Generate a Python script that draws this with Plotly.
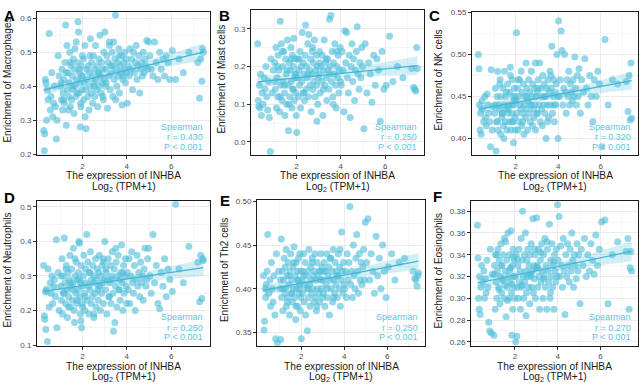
import numpy as np
import plotly.graph_objects as go

# ---------------- data (estimated) ----------------
# INHBA expression, Log2(TPM+1) — shared by all six panels (same samples)
inhba_log2 = [
    0.25, 0.28, 0.30, 0.33, 0.35, 0.38, 0.42, 0.45, 0.50, 0.55, 0.58, 0.62, 0.66, 0.70, 0.74, 0.78, 0.82, 0.85, 0.90, 0.95,
    1.02, 1.05, 1.08, 1.10, 1.13, 1.16, 1.18, 1.21, 1.24, 1.27, 1.30, 1.32, 1.35, 1.38, 1.40, 1.43, 1.46, 1.48, 1.51, 1.54,
    1.56, 1.59, 1.62, 1.64, 1.67, 1.70, 1.72, 1.75, 1.77, 1.80, 1.82, 1.84, 1.86, 1.88, 1.90, 1.92, 1.94, 1.96, 1.98, 1.99,
    1.04, 1.15, 1.26, 1.36, 1.45, 1.57, 1.66, 1.76, 1.85, 1.93,
    2.01, 2.04, 2.06, 2.09, 2.11, 2.14, 2.16, 2.19, 2.21, 2.24, 2.26, 2.29, 2.31, 2.34, 2.36, 2.39, 2.41, 2.44, 2.46, 2.49,
    2.51, 2.54, 2.56, 2.59, 2.61, 2.64, 2.66, 2.69, 2.71, 2.74, 2.76, 2.79, 2.81, 2.84, 2.86, 2.89, 2.91, 2.94, 2.96, 2.99,
    2.12, 2.33, 2.52, 2.73, 2.92,
    3.01, 3.04, 3.07, 3.10, 3.13, 3.16, 3.19, 3.22, 3.25, 3.28, 3.31, 3.34, 3.37, 3.40, 3.43, 3.46, 3.49, 3.52, 3.55, 3.58,
    3.61, 3.64, 3.67, 3.70, 3.73, 3.76, 3.79, 3.82, 3.85, 3.88, 3.91, 3.94, 3.97, 3.99,
    3.05, 3.21, 3.35, 3.50, 3.66, 3.81,
    4.02, 4.06, 4.10, 4.14, 4.18, 4.22, 4.26, 4.30, 4.34, 4.38, 4.42, 4.46, 4.50, 4.54, 4.58, 4.62, 4.66, 4.70, 4.74, 4.78,
    4.82, 4.86, 4.90, 4.94, 4.98,
    5.04, 5.10, 5.18, 5.25, 5.33, 5.40, 5.48, 5.55, 5.63, 5.70, 5.78, 5.86, 5.94,
    6.05, 6.20, 6.35, 6.55, 6.80,
    7.20, 7.28, 7.33, 7.38, 7.42, 7.45,
]

macrophages = [
    0.27, 0.21, 0.26, 0.42, 0.41, 0.30, 0.39, 0.36, 0.555, 0.33, 0.37, 0.44, 0.31, 0.35, 0.40, 0.34, 0.245, 0.30, 0.49, 0.43,
    0.40, 0.36, 0.45, 0.33, 0.38, 0.42, 0.35, 0.47, 0.58, 0.285, 0.52, 0.39, 0.44, 0.37, 0.41, 0.50, 0.34, 0.46, 0.36, 0.43,
    0.39, 0.48, 0.32, 0.45, 0.40, 0.37, 0.53, 0.42, 0.47, 0.59, 0.56, 0.38, 0.44, 0.41, 0.28, 0.35, 0.46, 0.43, 0.39, 0.49,
    0.41, 0.36, 0.44, 0.33, 0.47, 0.40, 0.51, 0.38, 0.45, 0.34,
    0.43, 0.48, 0.36, 0.41, 0.52, 0.39, 0.275, 0.45, 0.42, 0.37, 0.46, 0.33, 0.44, 0.40, 0.54, 0.38, 0.47, 0.43, 0.35, 0.49,
    0.41, 0.45, 0.37, 0.52, 0.42, 0.39, 0.46, 0.34, 0.44, 0.48, 0.40, 0.55, 0.43, 0.38, 0.47, 0.41, 0.45, 0.36, 0.50, 0.42,
    0.31, 0.49, 0.40, 0.44, 0.37,
    0.56, 0.45, 0.41, 0.49, 0.335, 0.47, 0.43, 0.52, 0.39, 0.46, 0.44, 0.50, 0.37, 0.53, 0.42, 0.48, 0.61, 0.45, 0.40, 0.47,
    0.43, 0.51, 0.38, 0.46, 0.44, 0.49, 0.345, 0.42, 0.47, 0.45, 0.50, 0.41, 0.48, 0.44,
    0.40, 0.53, 0.46, 0.36, 0.49, 0.43,
    0.35, 0.46, 0.43, 0.51, 0.45, 0.48, 0.39, 0.50, 0.44, 0.47, 0.52, 0.42, 0.46, 0.49, 0.38, 0.45, 0.47, 0.43, 0.50, 0.44,
    0.48, 0.46, 0.535, 0.45, 0.53,
    0.49, 0.45, 0.43, 0.53, 0.47, 0.42, 0.50, 0.45, 0.48, 0.43, 0.49, 0.47, 0.42,
    0.505, 0.42, 0.48, 0.44, 0.50,
    0.47, 0.365, 0.48, 0.415, 0.51, 0.50,
]

mast_cells = [
    0.26, 0.11, 0.095, 0.15, 0.09, 0.18, 0.07, 0.13, 0.10, 0.17, 0.14, 0.20, 0.12, 0.085, 0.16, 0.065, -0.025, 0.22, 0.13, 0.19,
    0.21, 0.14, 0.25, 0.09, 0.17, 0.12, 0.23, 0.19, 0.08, 0.32, 0.15, 0.26, 0.11, 0.20, 0.16, 0.24, 0.13, 0.07, 0.22, 0.18,
    0.10, 0.27, 0.15, 0.03, 0.21, 0.12, 0.19, 0.25, 0.16, 0.09, 0.23, 0.14, 0.20, 0.275, 0.11, 0.17, 0.22, 0.13, 0.18, 0.07,
    0.16, 0.20, 0.12, 0.24, 0.15, 0.19, 0.10, 0.22, 0.14, 0.18,
    0.025, 0.17, 0.22, 0.12, 0.19, 0.15, 0.24, 0.09, 0.20, 0.16, 0.29, 0.13, 0.21, 0.18, 0.11, 0.23, 0.31, 0.14, 0.20, 0.17,
    0.26, 0.12, 0.285, 0.19, 0.15, 0.22, 0.08, 0.18, 0.24, 0.14, 0.21, 0.16, 0.27, 0.12, 0.19, 0.23, 0.15, 0.20, 0.10, 0.17,
    0.22, 0.13, 0.18, 0.25, 0.055,
    0.18, 0.24, 0.13, 0.20, 0.16, 0.23, 0.07, 0.19, 0.27, 0.15, 0.21, 0.17, 0.11, 0.22, 0.19, 0.14, 0.325, 0.20, 0.335, 0.16,
    0.24, 0.12, 0.21, 0.18, 0.26, 0.15, 0.09, 0.20, 0.17, 0.23, 0.13, 0.19, 0.25, 0.16,
    0.21, 0.14, 0.22, 0.18, 0.10, 0.24,
    0.15, 0.24, 0.19, 0.08, 0.295, 0.21, 0.29, 0.17, 0.13, 0.23, 0.065, 0.20, 0.26, 0.16, 0.22, 0.11, 0.19, 0.24, 0.305, 0.18,
    0.14, 0.21, 0.17, 0.25, 0.20,
    0.035, 0.26, 0.13, 0.21, 0.18, 0.105, 0.23, 0.15, 0.22, 0.19, 0.055, 0.24, 0.14,
    0.15, 0.28, 0.16, 0.20, 0.17,
    0.195, 0.145, 0.14, 0.135, 0.25, 0.195,
]

nk_cells = [
    0.50, 0.483, 0.44, 0.41, 0.43, 0.405, 0.445, 0.435, 0.42, 0.45, 0.425, 0.415, 0.453, 0.44, 0.43, 0.42, 0.39, 0.482, 0.41, 0.438,
    0.43, 0.46, 0.385, 0.42, 0.45, 0.48, 0.41, 0.44, 0.435, 0.47, 0.405, 0.45, 0.425, 0.43, 0.46, 0.415, 0.44, 0.48, 0.42, 0.45,
    0.435, 0.41, 0.465, 0.43, 0.44, 0.42, 0.455, 0.485, 0.41, 0.44, 0.43, 0.47, 0.42, 0.45, 0.395, 0.44, 0.46, 0.425, 0.41, 0.45,
    0.44, 0.42, 0.465, 0.43, 0.40, 0.455, 0.435, 0.475, 0.42, 0.445,
    0.445, 0.526, 0.43, 0.46, 0.41, 0.45, 0.42, 0.47, 0.44, 0.435, 0.48, 0.415, 0.455, 0.43, 0.465, 0.405, 0.44, 0.45, 0.425, 0.49,
    0.435, 0.46, 0.41, 0.445, 0.47, 0.43, 0.455, 0.42, 0.44, 0.48, 0.45, 0.415, 0.465, 0.435, 0.425, 0.46, 0.44, 0.41, 0.45, 0.43,
    0.47, 0.42, 0.45, 0.44, 0.49,
    0.455, 0.43, 0.47, 0.44, 0.49, 0.42, 0.46, 0.45, 0.415, 0.475, 0.44, 0.465, 0.43, 0.45, 0.40, 0.46, 0.44, 0.47, 0.425, 0.455,
    0.48, 0.44, 0.46, 0.51, 0.43, 0.45, 0.47, 0.42, 0.455, 0.44, 0.465, 0.50, 0.45, 0.40,
    0.46, 0.435, 0.45, 0.42, 0.475, 0.44,
    0.54, 0.45, 0.47, 0.528, 0.505, 0.44, 0.46, 0.50, 0.455, 0.43, 0.47, 0.45, 0.48, 0.44, 0.465, 0.455, 0.445, 0.47, 0.45, 0.497,
    0.46, 0.44, 0.475, 0.45, 0.483,
    0.43, 0.47, 0.455, 0.495, 0.46, 0.44, 0.475, 0.45, 0.42, 0.47, 0.45, 0.48, 0.465,
    0.39, 0.518, 0.44, 0.47, 0.465,
    0.468, 0.432, 0.475, 0.422, 0.49, 0.424,
]

neutrophils = [
    0.33, 0.185, 0.175, 0.255, 0.145, 0.26, 0.11, 0.32, 0.21, 0.28, 0.25, 0.30, 0.22, 0.27, 0.29, 0.24, 0.405, 0.15, 0.31, 0.20,
    0.27, 0.23, 0.35, 0.19, 0.30, 0.25, 0.41, 0.28, 0.22, 0.33, 0.26, 0.18, 0.31, 0.24, 0.29, 0.36, 0.21, 0.27, 0.32, 0.23,
    0.28, 0.38, 0.20, 0.165, 0.30, 0.25, 0.34, 0.22, 0.29, 0.26, 0.31, 0.40, 0.395, 0.24, 0.19, 0.28, 0.33, 0.15, 0.27, 0.22,
    0.30, 0.25, 0.32, 0.21, 0.28, 0.26, 0.35, 0.23, 0.29, 0.17,
    0.21, 0.30, 0.36, 0.25, 0.20, 0.32, 0.28, 0.42, 0.23, 0.34, 0.27, 0.19, 0.31, 0.26, 0.37, 0.22, 0.29, 0.24, 0.33, 0.28,
    0.18, 0.30, 0.25, 0.35, 0.21, 0.29, 0.32, 0.26, 0.23, 0.31, 0.36, 0.27, 0.20, 0.30, 0.25, 0.33, 0.28, 0.22, 0.34, 0.29,
    0.24, 0.31, 0.19, 0.27, 0.35,
    0.40, 0.26, 0.31, 0.19, 0.29, 0.35, 0.24, 0.28, 0.33, 0.22, 0.30, 0.37, 0.25, 0.14, 0.32, 0.165, 0.27, 0.34, 0.21, 0.30,
    0.36, 0.26, 0.29, 0.23, 0.31, 0.39, 0.28, 0.20, 0.33, 0.25, 0.30, 0.35, 0.27, 0.22,
    0.32, 0.24, 0.29, 0.38, 0.26, 0.31,
    0.31, 0.26, 0.35, 0.22, 0.30, 0.37, 0.28, 0.25, 0.33, 0.20, 0.29, 0.36, 0.27, 0.31, 0.24, 0.34, 0.28, 0.30, 0.23, 0.32,
    0.38, 0.27, 0.29, 0.35, 0.38,
    0.30, 0.25, 0.42, 0.28, 0.33, 0.22, 0.205, 0.31, 0.27, 0.35, 0.24, 0.32, 0.29,
    0.255, 0.508, 0.32, 0.28, 0.385,
    0.34, 0.225, 0.36, 0.235, 0.35, 0.345,
]

th2_cells = [
    0.415, 0.353, 0.363, 0.40, 0.39, 0.405, 0.42, 0.462, 0.395, 0.41, 0.38, 0.43, 0.40, 0.385, 0.415, 0.37, 0.343, 0.44, 0.338, 0.42,
    0.40, 0.342, 0.457, 0.39, 0.42, 0.375, 0.41, 0.435, 0.395, 0.40, 0.445, 0.38, 0.415, 0.39, 0.43, 0.405, 0.37, 0.42, 0.44, 0.395,
    0.41, 0.385, 0.425, 0.40, 0.448, 0.39, 0.415, 0.365, 0.43, 0.40, 0.42, 0.38, 0.41, 0.435, 0.395, 0.405, 0.44, 0.375, 0.42, 0.39,
    0.41, 0.40, 0.425, 0.385, 0.415, 0.395, 0.43, 0.38, 0.41, 0.40,
    0.343, 0.41, 0.395, 0.42, 0.44, 0.385, 0.405, 0.43, 0.37, 0.415, 0.40, 0.352, 0.42, 0.39, 0.445, 0.405, 0.38, 0.425, 0.41, 0.395,
    0.435, 0.40, 0.415, 0.385, 0.42, 0.44, 0.39, 0.41, 0.375, 0.43, 0.40, 0.415, 0.395, 0.42, 0.385, 0.41, 0.44, 0.40, 0.425, 0.39,
    0.415, 0.40, 0.43, 0.38, 0.42,
    0.41, 0.395, 0.43, 0.38, 0.42, 0.405, 0.44, 0.39, 0.415, 0.425, 0.37, 0.41, 0.435, 0.40, 0.42, 0.385, 0.445, 0.41, 0.395, 0.43,
    0.405, 0.42, 0.39, 0.415, 0.44, 0.40, 0.425, 0.38, 0.41, 0.465, 0.42, 0.395, 0.43, 0.405,
    0.42, 0.40, 0.435, 0.39, 0.415, 0.445,
    0.40, 0.42, 0.39, 0.44, 0.41, 0.43, 0.494, 0.405, 0.42, 0.39, 0.45, 0.415, 0.40, 0.435, 0.462, 0.42, 0.395, 0.44, 0.41, 0.43,
    0.405, 0.425, 0.445, 0.41, 0.476,
    0.43, 0.48, 0.41, 0.44, 0.42, 0.395, 0.46, 0.415, 0.435, 0.40, 0.45, 0.42, 0.39,
    0.425, 0.44, 0.41, 0.43, 0.435,
    0.42, 0.412, 0.41, 0.403, 0.415, 0.418,
]

eosinophils = [
    0.367, 0.337, 0.30, 0.29, 0.32, 0.285, 0.31, 0.33, 0.315, 0.325, 0.30, 0.318, 0.305, 0.335, 0.31, 0.278, 0.27, 0.345, 0.268, 0.322,
    0.266, 0.33, 0.29, 0.34, 0.315, 0.30, 0.325, 0.345, 0.31, 0.335, 0.295, 0.32, 0.35, 0.305, 0.33, 0.318, 0.34, 0.30, 0.355, 0.312,
    0.325, 0.283, 0.335, 0.31, 0.36, 0.32, 0.30, 0.34, 0.315, 0.328, 0.362, 0.305, 0.266, 0.33, 0.29, 0.345, 0.32, 0.31, 0.335, 0.30,
    0.322, 0.34, 0.308, 0.33, 0.316, 0.352, 0.298, 0.326, 0.313, 0.338,
    0.32, 0.26, 0.34, 0.265, 0.31, 0.33, 0.30, 0.345, 0.315, 0.325, 0.29, 0.355, 0.31, 0.335, 0.38, 0.32, 0.30, 0.34, 0.315, 0.36,
    0.325, 0.305, 0.335, 0.32, 0.345, 0.31, 0.33, 0.295, 0.34, 0.32, 0.35, 0.31, 0.325, 0.373, 0.305, 0.33, 0.318, 0.34, 0.30, 0.328,
    0.336, 0.312, 0.284, 0.322, 0.345,
    0.374, 0.33, 0.31, 0.345, 0.32, 0.29, 0.335, 0.315, 0.35, 0.325, 0.30, 0.34, 0.32, 0.355, 0.31, 0.33, 0.29, 0.345, 0.325, 0.315,
    0.368, 0.30, 0.335, 0.32, 0.35, 0.31, 0.33, 0.29, 0.34, 0.325, 0.315, 0.345, 0.32, 0.386,
    0.328, 0.342, 0.318, 0.352, 0.305, 0.334,
    0.335, 0.375, 0.32, 0.348, 0.33, 0.31, 0.355, 0.325, 0.285, 0.34, 0.32, 0.35, 0.33, 0.315, 0.345, 0.325, 0.36, 0.335, 0.31, 0.34,
    0.33, 0.318, 0.35, 0.325, 0.34,
    0.295, 0.345, 0.33, 0.355, 0.32, 0.34, 0.325, 0.35, 0.335, 0.322, 0.358, 0.33, 0.345,
    0.37, 0.372, 0.295, 0.34, 0.352,
    0.343, 0.355, 0.29, 0.328, 0.343, 0.325,
]

panel_letters = ["A", "B", "C", "D", "E", "F"]
cell_types = ["Macrophages", "Mast cells", "NK cells", "Neutrophils", "Th2 cells", "Eosinophils"]
spearman_r = ["0.430", "0.250", "0.320", "0.250", "0.250", "0.270"]
p_text = ["P < 0.001"] * 6
y_ticks = [
    [0.2, 0.3, 0.4, 0.5, 0.6],
    [0.0, 0.1, 0.2, 0.3],
    [0.40, 0.45, 0.50, 0.55],
    [0.1, 0.2, 0.3, 0.4, 0.5],
    [0.35, 0.40, 0.45, 0.50],
    [0.26, 0.28, 0.30, 0.32, 0.34, 0.36, 0.38],
]
x_ticks = [2, 4, 6]
series = [macrophages, mast_cells, nk_cells, neutrophils, th2_cells, eosinophils]

# ---------------- layout geometry (window pixels) ----------------
boxes = [(37, 210, 9, 155), (251, 424, 7, 155), (472, 638, 9, 155),
         (37, 210, 202, 349), (257, 425, 201, 349), (471, 638, 202, 349)]
y_ranges = [(0.197, 0.619), (-0.035, 0.35), (0.380, 0.551),
            (0.098, 0.516), (0.335, 0.501), (0.2564, 0.389)]
y_fmt = [".1f", ".1f", ".2f", ".1f", ".2f", ".2f"]
letter_pos = [(9.5, 13), (224.5, 13), (434, 12.5), (9.5, 198), (224.5, 201), (437, 197.5)]
ytitle_x = [8, 222, 439, 8, 224, 439]
x_range = (-0.05, 7.75)

W, H = 642, 389

FONT = "Liberation Sans, Arial, Helvetica, sans-serif"
PT_COLOR = "rgba(80,190,218,0.62)"
LINE_COLOR = "#45b5d3"
BAND_COLOR = "rgba(80,190,218,0.25)"
TEXT_COLOR = "#5cc6dc"


def fx(p):
    return p / W


def fy(p):
    return 1 - p / H


def clamp(v):
    return min(1.0, max(0.0, v))


fig = go.Figure()
annotations = []

for k in range(6):
    ys = series[k]
    n = min(len(inhba_log2), len(ys))
    x = np.array(inhba_log2[:n], dtype=float)
    y = np.array(ys[:n], dtype=float)
    xa = "x" if k == 0 else f"x{k + 1}"
    ya = "y" if k == 0 else f"y{k + 1}"

    # linear fit + 95% confidence band (computed from the data)
    slope, inter = np.polyfit(x, y, 1)
    xs = np.linspace(x.min(), x.max(), 80)
    fit = inter + slope * xs
    resid = y - (inter + slope * x)
    s = np.sqrt(np.sum(resid ** 2) / (n - 2))
    sxx = np.sum((x - x.mean()) ** 2)
    se = s * np.sqrt(1.0 / n + (xs - x.mean()) ** 2 / sxx)
    lo, hi = fit - 1.97 * se, fit + 1.97 * se

    fig.add_trace(go.Scatter(x=x, y=y, mode="markers", xaxis=xa, yaxis=ya,
                             marker=dict(size=7, color=PT_COLOR, line=dict(width=0)),
                             showlegend=False, hoverinfo="skip"))
    fig.add_trace(go.Scatter(x=np.concatenate([xs, xs[::-1]]), y=np.concatenate([hi, lo[::-1]]),
                             mode="lines", fill="toself", fillcolor=BAND_COLOR, line=dict(width=0),
                             xaxis=xa, yaxis=ya, showlegend=False, hoverinfo="skip"))
    fig.add_trace(go.Scatter(x=xs, y=fit, mode="lines", line=dict(color=LINE_COLOR, width=1.2),
                             xaxis=xa, yaxis=ya, showlegend=False, hoverinfo="skip"))

    x0, x1, y0, y1 = boxes[k]
    yt = y_ticks[k]
    step = yt[1] - yt[0]
    yminor = [round(v + step / 2, 4) for v in yt[:-1]]
    if yt[0] - step / 2 > y_ranges[k][0]:
        yminor = [round(yt[0] - step / 2, 4)] + yminor
    if yt[-1] + step / 2 < y_ranges[k][1]:
        yminor = yminor + [round(yt[-1] + step / 2, 4)]

    axis_common = dict(showline=True, linecolor="#1a1a1a", linewidth=1, mirror=True,
                       ticks="outside", ticklen=3, tickcolor="#333333", tickwidth=1,
                       tickfont=dict(family=FONT, size=8, color="#4d4d4d"),
                       showgrid=True, gridcolor="#ebebeb", gridwidth=1, zeroline=False)
    xname = "xaxis" if k == 0 else f"xaxis{k + 1}"
    yname = "yaxis" if k == 0 else f"yaxis{k + 1}"
    fig.update_layout(**{
        xname: dict(domain=[clamp(fx(x0)), clamp(fx(x1))], range=list(x_range), anchor=ya,
                    tickmode="array", tickvals=x_ticks,
                    minor=dict(tickvals=[1, 3, 5, 7], showgrid=True, gridcolor="#f3f3f3", gridwidth=0.8, ticks=""),
                    **axis_common),
        yname: dict(domain=[clamp(fy(y1)), clamp(fy(y0))], range=list(y_ranges[k]), anchor=xa,
                    tickmode="array", tickvals=yt, tickformat=y_fmt[k],
                    minor=dict(tickvals=yminor, showgrid=True, gridcolor="#f3f3f3", gridwidth=0.8, ticks=""),
                    **axis_common),
    })

    # panel letter
    lx, ly = letter_pos[k]
    annotations.append(dict(text=f"<b>{panel_letters[k]}</b>", x=fx(lx), y=fy(ly), xref="paper", yref="paper",
                            xanchor="center", yanchor="middle", showarrow=False,
                            font=dict(family=FONT, size=15, color="black")))
    # y title
    annotations.append(dict(text=f"Enrichment of {cell_types[k]}", x=fx(ytitle_x[k]), y=fy((y0 + y1) / 2 - 3),
                            xref="paper", yref="paper", textangle=-90, xanchor="center", yanchor="middle",
                            showarrow=False, font=dict(family=FONT, size=10, color="#1a1a1a")))
    # x title (two lines)
    cx = (x0 + x1) / 2
    annotations.append(dict(text="The expression of INHBA", x=fx(cx), y=fy(y1 + 21), xref="paper", yref="paper",
                            xanchor="center", yanchor="middle", showarrow=False,
                            font=dict(family=FONT, size=10.2, color="#1a1a1a")))
    annotations.append(dict(text="Log<sub>2</sub> (TPM+1)", x=fx(cx), y=fy(y1 + 32.5), xref="paper", yref="paper",
                            xanchor="center", yanchor="middle", showarrow=False,
                            font=dict(family=FONT, size=10.2, color="#1a1a1a")))
    # Spearman statistics
    for txt, off in (("Spearman", 29), (f"r = {spearman_r[k]}", 18.5), (p_text[k], 8.5)):
        annotations.append(dict(text=txt, x=fx(x1 - 5), y=fy(y1 - off), xref="paper", yref="paper",
                                xanchor="right", yanchor="middle", showarrow=False,
                                font=dict(family=FONT, size=9, color=TEXT_COLOR)))

fig.update_layout(width=W, height=H, autosize=False, margin=dict(l=0, r=0, t=0, b=0),
                  paper_bgcolor="white", plot_bgcolor="white", annotations=annotations,
                  font=dict(family=FONT))

# remove the default 8px page margin so the figure fills the window from its corner
fig.write_html("out.html",
               config={"displayModeBar": False, "staticPlot": True},
               post_script="document.body.style.margin='0';document.body.style.overflow='hidden';")
